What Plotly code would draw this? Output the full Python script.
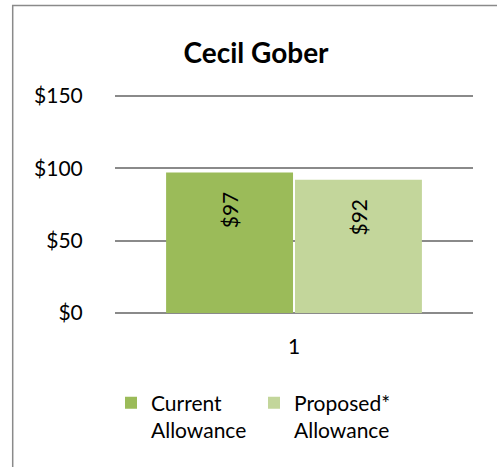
import plotly.graph_objects as go

categories = ["1"]
series_names = ["Current<br>Allowance", "Proposed*<br>Allowance"]
current_values = [97]
proposed_values = [92]
y_ticks = [0, 50, 100, 150]
y_tick_labels = ["$0", "$50", "$100", "$150"]
colors = ["#9BBB59", "#C3D69B"]

FONT = "Lato, 'Noto Sans', sans-serif"
W, H = 497, 467
Y_MAX = 152
L, R, T, B = 115, 24, 92.8, 153.7
pw, ph = W - L - R, H - T - B
Y0 = H - B  # pixel y of $0 line

fig = go.Figure()
for name, vals, col in zip(series_names, [current_values, proposed_values], colors):
    fig.add_trace(go.Bar(
        x=categories, y=vals, name=name,
        marker=dict(color=col, line=dict(width=0)),
        texttemplate="$%{y:.0f}\u00a0\u00a0\u00a0",
        textposition="inside", insidetextanchor="end",
        textangle=-90, textfont=dict(family=FONT, size=21, color="#000000"),
        hoverinfo="skip",
    ))

fig.update_layout(
    width=W, height=H,
    margin=dict(l=L, r=R, t=T, b=B, pad=0, autoexpand=False),
    paper_bgcolor="white", plot_bgcolor="white",
    barmode="group", bargap=0.28, bargroupgap=0.015,
    font=dict(family=FONT, size=21, color="#000000"),
    title=dict(text="<b>Cecil Gober</b>", font=dict(family=FONT, size=28, color="#000000"),
               x=256 / W, xref="container", xanchor="center",
               y=1 - 53 / H, yref="container", yanchor="middle"),
    showlegend=True,
    legend=dict(orientation="h", x=(111 - L) / pw, xanchor="left",
                y=(Y0 - 383) / ph, yanchor="top", valign="top",
                font=dict(family=FONT, size=21, color="#000000"),
                entrywidth=98, entrywidthmode="pixels",
                traceorder="normal", bgcolor="rgba(0,0,0,0)"),
    xaxis=dict(range=[-0.5, 0.5], showgrid=False, showline=False, zeroline=False,
               automargin=False,
               ticks="outside", ticklen=15, tickcolor="rgba(0,0,0,0)",
               tickfont=dict(family=FONT, size=21, color="#000000")),
    yaxis=dict(range=[0, Y_MAX], tickvals=y_ticks, ticktext=y_tick_labels,
               automargin=False,
               showgrid=True, gridcolor="#8a8a8a", gridwidth=1.5,
               zeroline=True, zerolinecolor="#8a8a8a", zerolinewidth=1.5,
               showline=False, ticks="outside", ticklen=27, tickcolor="rgba(0,0,0,0)",
               tickfont=dict(family=FONT, size=21, color="#000000")),
    shapes=[dict(type="rect", xref="paper", yref="paper",
                 x0=(12.7 - L) / pw, x1=(520 - L) / pw,
                 y0=(Y0 - 520) / ph, y1=(Y0 - 5) / ph,
                 line=dict(color="#8a8a8a", width=1.5), fillcolor="rgba(0,0,0,0)",
                 layer="below")],
)

fig.write_html("out.html", config={"displayModeBar": False},
               post_script="document.body.style.margin='0';")
